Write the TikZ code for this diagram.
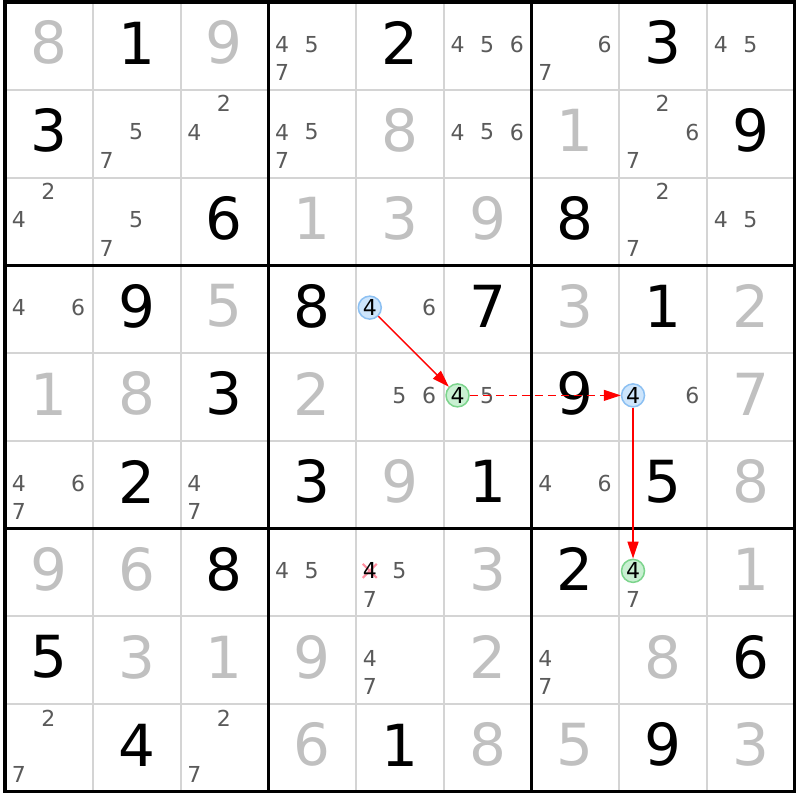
\documentclass[tikz,border=0pt]{standalone}
\usepackage{fontspec}
\setmainfont{DejaVu Sans}
\usetikzlibrary{arrows.meta}
\definecolor{gridthin}{HTML}{D4D4D4}
\definecolor{solvedgray}{HTML}{C0C0C0}
\definecolor{candgray}{HTML}{5A5A5A}
\definecolor{bluefill}{HTML}{CDE5FC}
\definecolor{blueline}{HTML}{8CC0F2}
\definecolor{greenfill}{HTML}{C9F0D2}
\definecolor{greenline}{HTML}{7CD48C}
\definecolor{crosscol}{HTML}{FF8FA0}
\definecolor{linkred}{HTML}{FF0000}
\begin{document}
\begin{tikzpicture}[x=1pt,y=-1pt,
  givendigit/.style={inner sep=0pt, font=\fontsize{58}{58}\selectfont, text=black},
  solveddigit/.style={givendigit, text=solvedgray},
  cand/.style={inner sep=0pt, font=\fontsize{22}{22}\selectfont, text=candgray},
  hlblue/.style={circle, draw=blueline, fill=bluefill, line width=1.5pt, inner sep=0pt,
                 minimum size=23pt, font=\fontsize{22}{22}\selectfont, text=black},
  hlgreen/.style={hlblue, draw=greenline, fill=greenfill},
  crossedcand/.style={cand, text=black},
  crossline/.style={draw=crosscol, line width=2.2pt},
  link/.style={draw=linkred, line width=1.3pt, -{Triangle[length=17pt,width=11pt,fill=linkred]}},
  weaklink/.style={link, dash pattern=on 8pt off 5pt},
  gridline/.style={draw=gridthin, line width=2pt},
  boxline/.style={draw=black, line width=3.4pt, line cap=rect}
]
\useasboundingbox (0,0) rectangle (800,800);
\fill[white] (0,0) rectangle (800,800);
% thin grid
\foreach \i in {1,2,4,5,7,8}{
  \draw[gridline] ({5+87.75*\i},2) -- ({5+87.75*\i},791.75);
  \draw[gridline] (5,{2+87.75*\i}) -- (794.75,{2+87.75*\i});
}
% box lines
\foreach \i in {0,3,6,9}{
  \draw[boxline] ({5+87.75*\i},2) -- ({5+87.75*\i},791.75);
  \draw[boxline] (5,{2+87.75*\i}) -- (794.75,{2+87.75*\i});
}
% given digits
\foreach \r/\c/\d in {0/1/1,0/4/2,0/7/3,1/0/3,1/8/9,2/2/6,2/6/8,
  3/1/9,3/3/8,3/5/7,3/7/1,4/2/3,4/6/9,5/1/2,5/3/3,5/5/1,5/7/5,
  6/2/8,6/6/2,7/0/5,7/8/6,8/1/4,8/4/1,8/7/9}
  \node[givendigit] (g\r\c) at ({5+87.75*(\c+0.5)},{2+87.75*(\r+0.5)-3}) {\d};
% solved digits
\foreach \r/\c/\d in {0/0/8,0/2/9,1/4/8,1/6/1,2/3/1,2/4/3,2/5/9,
  3/2/5,3/6/3,3/8/2,4/0/1,4/1/8,4/3/2,4/8/7,5/4/9,5/8/8,
  6/0/9,6/1/6,6/5/3,6/8/1,7/1/3,7/2/1,7/3/9,7/5/2,7/7/8,
  8/3/6,8/5/8,8/6/5,8/8/3}
  \node[solveddigit] (s\r\c) at ({5+87.75*(\c+0.5)},{2+87.75*(\r+0.5)-3}) {\d};
% candidates
\foreach \r/\c/\ds in {0/3/{4,5,7},0/5/{4,5,6},0/6/{6,7},0/8/{4,5},
  1/1/{5,7},1/2/{2,4},1/3/{4,5,7},1/5/{4,5,6},1/7/{2,6,7},
  2/0/{2,4},2/1/{5,7},2/7/{2,7},2/8/{4,5},
  3/0/{4,6},3/4/{6},4/4/{5,6},4/5/{5},4/7/{6},
  5/0/{4,6,7},5/2/{4,7},5/6/{4,6},
  6/3/{4,5},6/4/{5,7},6/7/{7},
  7/4/{4,7},7/6/{4,7},8/0/{2,7},8/2/{2,7}}{
  \foreach \n in \ds {
    \pgfmathsetmacro\px{5+87.75*(\c+0.5)+(mod(\n-1,3)-1)*29.7-0.4}
    \pgfmathsetmacro\py{2+87.75*(\r+0.5)+(floor((\n-1)/3)-1)*28.3-1.5}
    \node[cand] (c\r\c\n) at (\px,\py) {\n};
  }
}
% eliminated candidate
\coordinate (xc) at ({5+87.75*4.5-30.1},{2+87.75*6.5-1.5});
\draw[crossline] ([shift={(-7,-7)}]xc) -- ([shift={(7,7)}]xc);
\draw[crossline] ([shift={(-7,7)}]xc) -- ([shift={(7,-7)}]xc);
\node[crossedcand] (x4) at (xc) {4};
% highlighted candidates
\node[hlblue]  (a) at ({5+87.75*4.5-30.1},{2+87.75*3.5-1.5}) {4};
\node[hlgreen] (b) at ({5+87.75*5.5-30.1},{2+87.75*4.5-1.5}) {4};
\node[hlblue]  (c) at ({5+87.75*7.5-30.1},{2+87.75*4.5-1.5}) {4};
\node[hlgreen] (d) at ({5+87.75*7.5-30.1},{2+87.75*6.5-1.5}) {4};
% links
\draw[link] (a) -- (b);
\draw[weaklink] (b) -- (c);
\draw[link] (c) -- (d);
\end{tikzpicture}
\end{document}
